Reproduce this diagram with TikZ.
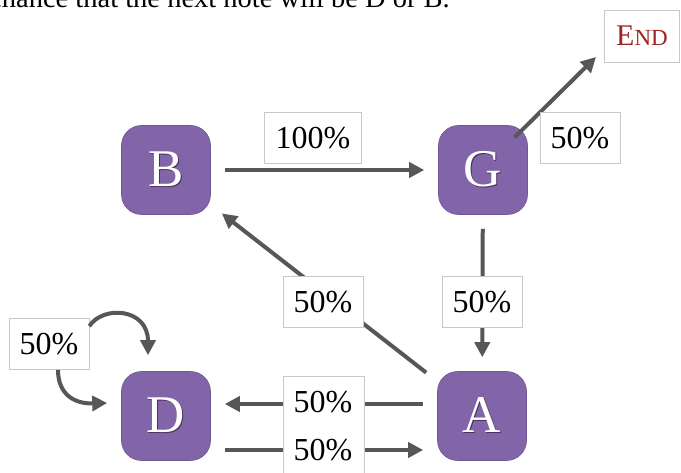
\documentclass[tikz,border=0pt]{standalone}
\usepackage{fontspec}
\setmainfont{Liberation Serif}
\usetikzlibrary{arrows.meta}
\definecolor{nodepurple}{RGB}{130,101,168}
\definecolor{nodeedge}{RGB}{112,86,148}
\definecolor{arrowgray}{RGB}{88,86,86}
\definecolor{boxgray}{RGB}{200,200,200}
\definecolor{endred}{RGB}{160,36,36}
\definecolor{lettershadow}{RGB}{70,50,90}
\newcommand\shadowed[1]{\rlap{\hspace{1pt}\raisebox{-1pt}{\textcolor{lettershadow}{#1}}}#1}
\begin{document}
\begin{tikzpicture}[x=1pt,y=-1pt,
  state/.style={rectangle, rounded corners=20pt, fill=nodepurple, draw=nodeedge, line width=0.6pt,
    minimum width=89pt, minimum height=89pt, inner sep=0pt, text=white, font=\fontsize{53}{53}\selectfont},
  prob/.style={rectangle, fill=white, draw=boxgray, line width=0.7pt, minimum width=80pt,
    minimum height=51pt, inner sep=0pt, font=\fontsize{32}{32}\selectfont},
  problabel/.style={prob, draw=none, fill=none},
  arr/.style={draw=arrowgray, line width=4pt, -{Triangle[length=15pt,width=15pt]},
    shorten <=14pt, shorten >=14pt}
]
\clip (0,0) rectangle (681,473);
\fill[white] (0,0) rectangle (681,473);

\node[anchor=base east, inner sep=0pt, font=\fontsize{28.5}{28.5}\selectfont] (cap) at (450,7.5)
  {chance that the next note will be D or B.};

\node[state] (B) at (166,170) {\shadowed{B}};
\node[state] (G) at (483,170) {\shadowed{G}};
\node[state] (D) at (166,416) {\shadowed{D}};
\node[state] (A) at (482,416) {\shadowed{A}};
\node[prob, minimum width=75pt, minimum height=52pt, text=endred] (END) at (642,36)
  {\fontsize{30}{30}\selectfont E\fontsize{23}{23}\selectfont ND};
\node[prob] (Lloop) at (49,344) {50\%};

\coordinate (endtip) at (596,57);
\draw[arr] (B) -- (G);
\draw[arr] (G) -- (A);
\draw[arr] (A) -- (B);
\draw[arr] ([yshift=12pt]A.west) -- ([yshift=12pt]D.east);
\draw[arr] ([yshift=-34pt]D.east) -- ([yshift=-34pt]A.west);
\draw[arr, shorten <=0pt, shorten >=0pt] ([xshift=-13pt,yshift=-12pt]G.north east) -- (endtip);
\draw[arr, shorten <=0pt, shorten >=0pt] ([yshift=-8pt]Lloop.north east)
  .. controls (103,305) and (148,308) .. ([xshift=-18pt,yshift=16pt]D.north);
\draw[arr, shorten <=0pt, shorten >=0pt] ([xshift=9pt]Lloop.south)
  .. controls (58,395) and (75,404) .. ([xshift=-14pt,yshift=13pt]D.west);

\node[prob, minimum width=97pt] (p1) at (313,138) {100\%};
\node[prob] (p2) at (580,138) {50\%};
\node[prob] (p3) at (482,302) {50\%};
\node[prob] (p4) at (323,302) {50\%};
\path[draw=boxgray, fill=white, line width=0.7pt] (283,376) rectangle (364,480);
\node[problabel] (p5) at (323,402) {50\%};
\node[problabel] (p6) at (323,450) {50\%};
\end{tikzpicture}
\end{document}
